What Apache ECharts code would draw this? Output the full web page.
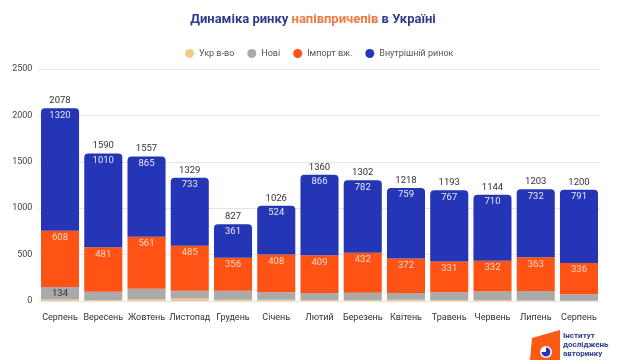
<!DOCTYPE html>
<html><head><meta charset="utf-8">
<script src="https://cdn.jsdelivr.net/npm/echarts@6/dist/echarts.min.js"></script>
<style>html,body{margin:0;padding:0;background:#fff}#c{width:620px;height:364px}</style>
</head><body><div id="c"></div>
<script>
const categories = ['Серпень','Вересень','Жовтень','Листопад','Грудень','Січень','Лютий','Березень','Квітень','Травень','Червень','Липень','Серпень'];
const totals   = [2078,1590,1557,1329,827,1026,1360,1302,1218,1193,1144,1203,1200];
const internal = [1320,1010,865,733,361,524,866,782,759,767,710,732,791];
const imported = [608,481,561,485,356,408,409,432,372,331,332,363,336];
const ukrProd  = [16,10,20,28,14,14,10,10,14,10,10,6,3];
const newVeh   = [134,89,111,83,96,80,75,78,73,85,92,102,70];
const yTicks = [0,500,1000,1500,2000,2500];

const chart = echarts.init(document.getElementById('c'), null, {renderer:'canvas'});
const FONT = 'Roboto';
chart.setOption({
  animation:false,
  textStyle:{fontFamily:FONT},
  title:{
    text:'{b|Динаміка ринку }{o|напівпричепів}{b| в Україні}',
    left:308, top:8, textAlign:'center',
    textStyle:{rich:{
      b:{color:'#2d3c8e',fontSize:13,fontWeight:'bold',fontFamily:FONT},
      o:{color:'#ee7a45',fontSize:13,fontWeight:'bold',fontFamily:FONT}
    }}
  },
  legend:{
    data:['Укр в-во','Нові','Імпорт вж.','Внутрішній ринок'],
    left:180, top:44, icon:'circle', itemWidth:9, itemHeight:9, itemGap:13,
    textStyle:{fontSize:9,color:'#555',fontFamily:FONT}
  },
  grid:{left:38.4, right:19.4, top:69, bottom:63},
  xAxis:{
    type:'category', data:categories,
    axisLine:{show:false}, axisTick:{show:false},
    axisLabel:{fontSize:9,color:'#333',margin:12,interval:0,fontFamily:FONT}
  },
  yAxis:{
    type:'value', min:yTicks[0], max:yTicks[yTicks.length-1], interval:500,
    axisLabel:{fontSize:9,color:'#444',margin:6,fontFamily:FONT,formatter:v=>String(v)},
    splitLine:{lineStyle:{color:'#e4e4e4'}}
  },
  series:[
    {name:'Укр в-во',type:'bar',stack:'a',data:ukrProd,barCategoryGap:'12%',
     itemStyle:{color:'#f3c98a'}},
    {name:'Нові',type:'bar',stack:'a',
     data:newVeh.map((v,i)=> i===0 ? {value:v,label:{show:true}} : v),
     itemStyle:{color:'#aaaaaa'},
     label:{show:false,position:'inside',color:'#333',fontSize:9.5,fontFamily:FONT}},
    {name:'Імпорт вж.',type:'bar',stack:'a',data:imported,
     itemStyle:{color:'#fe5315'},
     label:{show:true,position:'insideTop',distance:2,color:'#ffd9c4',fontSize:9.5,fontFamily:FONT}},
    {name:'Внутрішній ринок',type:'bar',stack:'a',data:internal,
     itemStyle:{color:'#2435b5',borderRadius:[4,4,0,0]},
     label:{show:true,position:'insideTop',distance:2,color:'#e6e9fb',fontSize:9.5,fontFamily:FONT}},
    {name:'Разом',type:'line',data:totals,symbol:'circle',symbolSize:1,showSymbol:true,
     itemStyle:{color:'transparent'},lineStyle:{opacity:0},silent:true,z:10,
     label:{show:true,position:'top',distance:2,color:'#333',fontSize:9.5,fontFamily:FONT}}
  ],
  graphic:[
    {type:'polygon',shape:{points:[[532,338],[560,330],[560,360],[530,360]]},style:{fill:'#fb5a12'}},
    {type:'circle',shape:{cx:546,cy:352,r:6},style:{fill:'#fff'}},
    {type:'sector',shape:{cx:546,cy:352,r:4.5,startAngle:-Math.PI/2,endAngle:Math.PI},style:{fill:'#2435b5'}},
    {type:'text',left:563,top:331,style:{text:'Інститут\nдосліджень\nавторинку',fill:'#2d3c8e',font:'bold 8px Roboto',lineHeight:9}}
  ]
});
</script></body></html>
